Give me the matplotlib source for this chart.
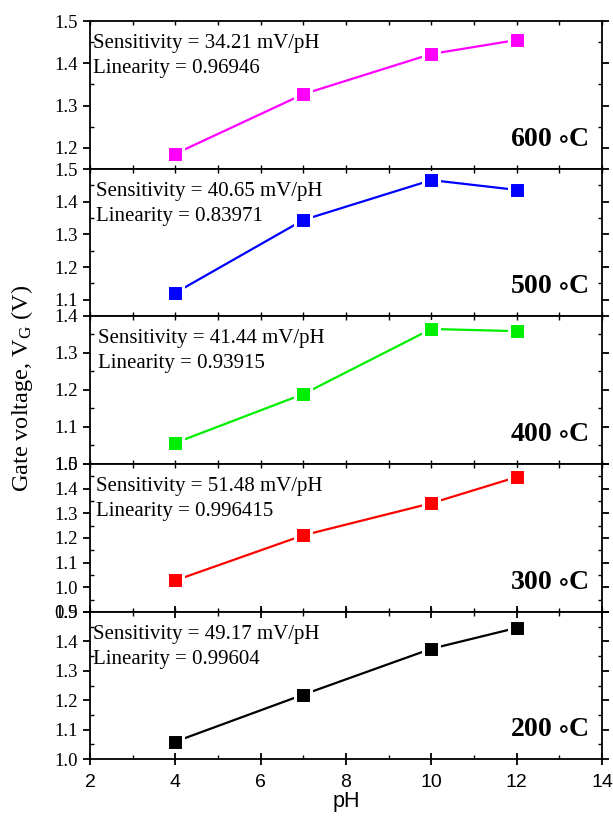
import numpy as np
import matplotlib
matplotlib.use('Agg')
import matplotlib.pyplot as plt
from matplotlib.ticker import MultipleLocator

ph = [4, 7, 10, 12]

# gate voltage (V) per annealing temperature, top panel first
temps = ['600', '500', '400', '300', '200']
vg_600 = [1.186, 1.327, 1.422, 1.455]
vg_500 = [1.121, 1.344, 1.466, 1.436]
vg_400 = [1.057, 1.189, 1.365, 1.359]
vg_300 = [1.028, 1.211, 1.341, 1.447]
vg_200 = [1.059, 1.219, 1.375, 1.446]
sens = ['34.21', '40.65', '41.44', '51.48', '49.17']
lin = ['0.96946', '0.83971', '0.93915', '0.996415', '0.99604']
ylims = [(1.15, 1.5), (1.05, 1.5), (1.0, 1.4), (0.9, 1.5), (1.0, 1.5)]
colors = ['#ff00ff', '#0000ff', '#00ee00', '#ff0000', '#000000']
series = [vg_600, vg_500, vg_400, vg_300, vg_200]
txt_dx = [2, 4, 5.5, 4, 2]

serif = ['Liberation Serif', 'DejaVu Serif']
sans = ['Liberation Sans', 'DejaVu Sans']
plt.rcParams['mathtext.fontset'] = 'stix'

W, H = 613, 834
fig = plt.figure(figsize=(W / 100, H / 100), dpi=100)

bounds = [21, 169, 316, 464, 612, 759]
left, right = 90, 602

for i in range(5):
    top, bot = bounds[i], bounds[i + 1]
    ax = fig.add_axes([left / W, 1 - bot / H, (right - left) / W, (bot - top) / H])
    ax.plot(ph, series[i], '-', color=colors[i], lw=1.6, marker='s', ms=12,
            mfc=colors[i], mec='white', mew=2.2, clip_on=False, zorder=3)
    ax.set_xlim(2, 14)
    ax.set_ylim(*ylims[i])
    ax.yaxis.set_major_locator(MultipleLocator(0.1))
    ax.yaxis.set_minor_locator(MultipleLocator(0.05))
    ax.xaxis.set_major_locator(MultipleLocator(2))
    ax.xaxis.set_minor_locator(MultipleLocator(1))
    for s in ax.spines.values():
        s.set_linewidth(1.3)
    ax.tick_params(axis='y', which='major', direction='out', length=5, width=1.3,
                   right=True, labelsize=13.5)
    ax.tick_params(axis='y', which='minor', direction='in', length=3, width=1,
                   right=True)
    ax.tick_params(axis='x', which='both', direction='in', length=3, width=1,
                   top=True)
    for t in ax.get_yticklabels():
        t.set_fontfamily(serif)
    ax.annotate('Sensitivity = %s mV/pH' % sens[i], xy=(0, 1), xycoords='axes fraction',
                xytext=(txt_dx[i], -16), textcoords='offset points',
                fontsize=15, family=serif, va='center', ha='left')
    ax.annotate('Linearity = %s' % lin[i], xy=(0, 1), xycoords='axes fraction',
                xytext=(txt_dx[i], -34.5), textcoords='offset points',
                fontsize=15, family=serif, va='center', ha='left')
    ax.annotate(temps[i] + r' $\circ$C', xy=(1, 0), xycoords='axes fraction',
                xytext=(-10, 21), textcoords='offset points',
                fontsize=20, family=serif, weight='bold', va='center', ha='right')
    if i < 4:
        ax.tick_params(axis='x', labelbottom=False)
    else:
        ax.tick_params(axis='x', which='major', direction='inout', length=9,
                       width=1.3, labelsize=14, pad=6)
        for t in ax.get_xticklabels():
            t.set_fontfamily(sans)
        ax.set_xlabel('pH', fontsize=15.5, family=sans, labelpad=0)

fig.text(22 / W, 1 - 388 / H, r'Gate voltage, V$_\mathregular{G}$ (V)', rotation=90,
         fontsize=17.5, family=serif, va='center', ha='center')

fig.savefig('out.png', dpi=100)
